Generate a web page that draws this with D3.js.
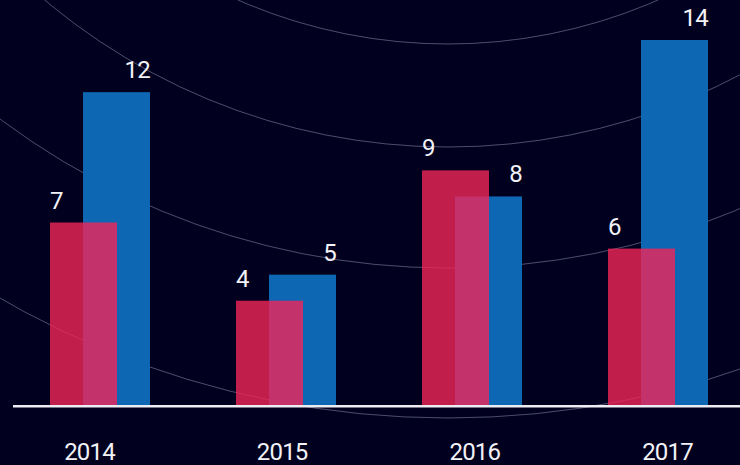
<!DOCTYPE html>
<html>
<head>
<meta charset="utf-8">
<script src="https://cdn.jsdelivr.net/npm/d3@7/dist/d3.min.js"></script>
<style>
  html, body { margin: 0; padding: 0; background: #01011f; }
  svg { display: block; }
  .lbl { font-family: Roboto, "DejaVu Sans Condensed", sans-serif; font-weight: 400; font-size: 24px; fill: #f2f2f7; letter-spacing: -0.8px; }
</style>
</head>
<body>
<svg id="chart" width="740" height="465"></svg>
<script>
// Yearly figures, two series per year
const categories = ["2014", "2015", "2016", "2017"];
const redValues  = [7, 4, 9, 6];
const blueValues = [12, 5, 8, 14];

const W = 740, H = 465;
const svg = d3.select("#chart");

svg.append("rect").attr("width", W).attr("height", H).attr("fill", "#01011f");

// Decorative concentric rings in the background
const ringCenter = [448, -480];
const ringRadii = [524, 627, 748, 898];
const ringArc = d3.arc().innerRadius(d => d).outerRadius(d => d)
  .startAngle(Math.PI / 2).endAngle(Math.PI * 1.5);
svg.append("g")
  .attr("transform", `translate(${ringCenter[0]},${ringCenter[1]})`)
  .selectAll("path").data(ringRadii).join("path")
  .attr("d", ringArc)
  .attr("fill", "none")
  .attr("stroke", "rgba(190,190,225,0.22)")
  .attr("stroke-width", 1);

// Scales
const x = d3.scaleBand().domain(categories).range([50, 708])
  .paddingInner(86 / 186).paddingOuter(0);
const y = d3.scaleLinear().domain([0, 14]).range([405, 40]);
const xLabel = d3.scalePoint().domain(categories).range([89, 667]);

const barW = x.bandwidth() * 0.67;

const rows = categories.map((c, i) => ({ c, red: redValues[i], blue: blueValues[i] }));

// Blue bars (behind)
svg.append("g").selectAll("rect").data(rows).join("rect")
  .attr("x", d => x(d.c) + x.bandwidth() - barW)
  .attr("y", d => y(d.blue))
  .attr("width", barW)
  .attr("height", d => y(0) - y(d.blue))
  .attr("fill", "#0e67b2");

// Red bars (front, translucent)
svg.append("g").selectAll("rect").data(rows).join("rect")
  .attr("x", d => x(d.c))
  .attr("y", d => y(d.red))
  .attr("width", barW)
  .attr("height", d => y(0) - y(d.red))
  .attr("fill", "#f12658")
  .attr("fill-opacity", 0.8);

// Value labels
svg.append("g").selectAll("text").data(rows).join("text")
  .attr("class", "lbl")
  .attr("x", d => x(d.c))
  .attr("y", d => y(d.red) - 14)
  .attr("text-anchor", "start")
  .text(d => d.red);

svg.append("g").selectAll("text").data(rows).join("text")
  .attr("class", "lbl")
  .attr("x", d => x(d.c) + x.bandwidth())
  .attr("y", d => y(d.blue) - 14)
  .attr("text-anchor", "end")
  .text(d => d.blue);

// Baseline
svg.append("line")
  .attr("x1", 13).attr("x2", W)
  .attr("y1", y(0) + 1.3).attr("y2", y(0) + 1.3)
  .attr("stroke", "#ececf2").attr("stroke-width", 2.5);

// Category axis
const axis = svg.append("g")
  .attr("transform", `translate(0,${y(0)})`)
  .call(d3.axisBottom(xLabel).tickSize(0).tickPadding(0));
axis.select(".domain").remove();
axis.selectAll("text")
  .attr("class", "lbl")
  .attr("dy", null)
  .attr("y", 55)
  .attr("fill", "#f2f2f7");
</script>
</body>
</html>
